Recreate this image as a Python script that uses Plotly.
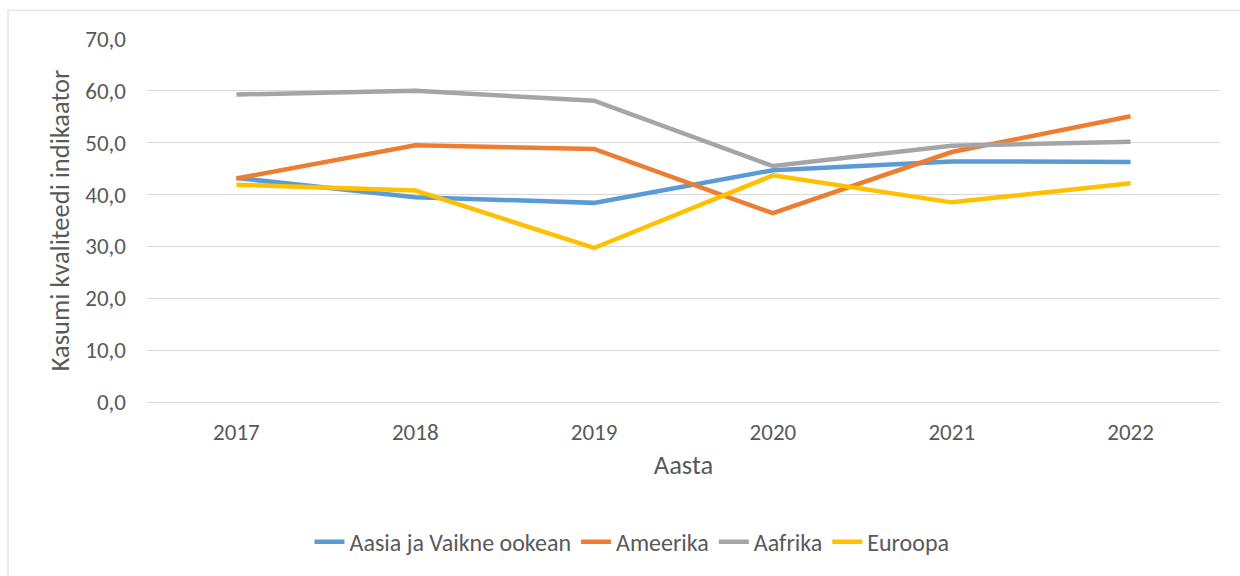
import plotly.graph_objects as go

years = ["2017", "2018", "2019", "2020", "2021", "2022"]
aasia = [43.2, 39.5, 38.4, 44.7, 46.4, 46.3]
ameerika = [43.1, 49.5, 48.8, 36.4, 48.2, 55.1]
aafrika = [59.3, 60.0, 58.1, 45.5, 49.4, 50.2]
euroopa = [41.9, 40.8, 29.7, 43.7, 38.5, 42.2]

series = [
    ("Aasia ja Vaikne ookean", aasia, "#5b9bd5"),
    ("Ameerika", ameerika, "#ed7d31"),
    ("Aafrika", aafrika, "#a5a5a5"),
    ("Euroopa", euroopa, "#ffc000"),
]

FONT = "Carlito, Calibri, Lato, sans-serif"

fig = go.Figure()
for name, vals, col in series:
    fig.add_trace(go.Scatter(x=years, y=vals, name=name, mode="lines",
                             line=dict(color=col, width=4.5)))

fig.update_layout(
    width=1240, height=576,
    margin=dict(l=147, r=20, t=39, b=172),
    paper_bgcolor="white", plot_bgcolor="white",
    font=dict(family=FONT, color="#595959", size=23),
    showlegend=True,
    legend=dict(orientation="h", x=0.452, xanchor="center", y=-0.386, yanchor="middle",
                font=dict(size=24, color="#595959"), traceorder="normal"),
    xaxis=dict(type="category", showgrid=False, showline=False, ticks="",
               tickfont=dict(size=23), ticklabelstandoff=14,
               title=dict(text="Aasta", font=dict(size=26.5), standoff=10),
               range=[-0.5, 5.5]),
    yaxis=dict(range=[0, 70], dtick=10, tickformat=".1f", showgrid=True, gridcolor="#d9d9d9",
               gridwidth=1, zeroline=True, zerolinecolor="#d9d9d9", zerolinewidth=1,
               tickfont=dict(size=23), ticklabelstandoff=20,
               title=dict(text="Kasumi kvaliteedi indikaator", font=dict(size=26.5), standoff=8)),
    separators=",.",
    shapes=[dict(type="rect", xref="paper", yref="paper", x0=-0.1295, x1=1.2,
                 y0=-0.7, y1=1.0795, line=dict(color="#d9d9d9", width=1), layer="below")],
)

fig.write_html("out.html", config={"displayModeBar": False},
               post_script="document.body.style.margin='0';document.body.style.overflow='hidden';")
